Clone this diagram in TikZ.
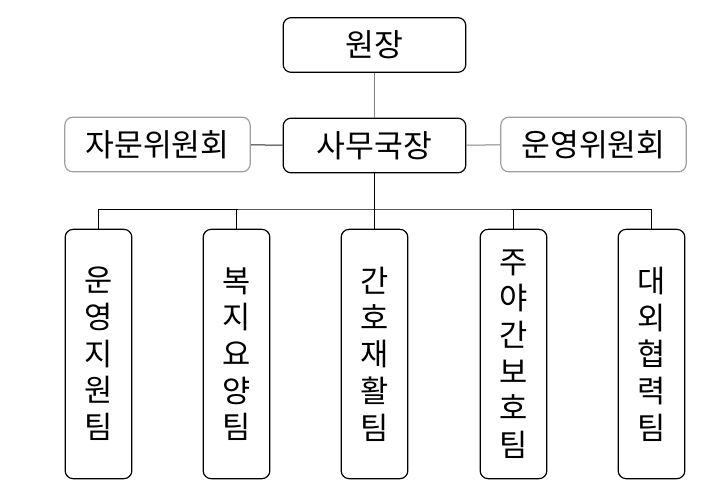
\documentclass[tikz,border=0pt]{standalone}
\usepackage{fontspec}
\setmainfont{Noto Sans CJK KR}
\usepackage{tikz}
\usetikzlibrary{positioning}
\tikzstyle{head} = [draw, rounded corners=6pt, line width=0.9pt, minimum height=41pt, minimum width=137pt, font=\fontsize{23.5}{27}\selectfont]
\tikzstyle{side} = [head, draw=gray!75, minimum width=139pt]
\tikzstyle{team} = [draw, rounded corners=6pt, line width=0.9pt, minimum height=187pt, minimum width=50pt, align=center, font=\fontsize{23}{27.5}\selectfont]
\tikzstyle{link} = [line width=0.75pt]

\begin{document}
\begin{tikzpicture}[x=0.75pt, y=-0.75pt]
		\useasboundingbox (0,0) rectangle (720,493);
		\node [head] (director) at (374.5,45) {원장};
		\node [head] (office) at (374.5,145.5) {사무국장};
		\node [side] (advisory) at (157.5,144.5) {자문위원회};
		\node [side] (steering) at (593.5,144.5) {운영위원회};
		\node [team] (ops) at (98.5,354) {운\\영\\지\\원\\팀};
		\node [team] (care) at (236.5,354) {복\\지\\요\\양\\팀};
		\node [team] (rehab) at (374.5,354) {간\\호\\재\\활\\팀};
		\node [team] (daynight) at (513.5,354) {주\\야\\간\\보\\호\\팀};
		\node [team] (external) at (651.5,354) {대\\외\\협\\력\\팀};
		\coordinate (bus) at (374.5,209);

		\draw [link, gray] (director) -- (office);
		\draw [link, black!85] (advisory) -- (office);
		\draw [link, gray] (office) -- (steering);
		\draw [link] (office.south) -- (bus);
		\draw [link] (ops.north) |- (bus) -| (external.north);
		\draw [link] (care.north) -- (care.north |- bus);
		\draw [link] (rehab.north) -- (bus);
		\draw [link] (daynight.north) -- (daynight.north |- bus);
	\end{tikzpicture}
\end{document}
